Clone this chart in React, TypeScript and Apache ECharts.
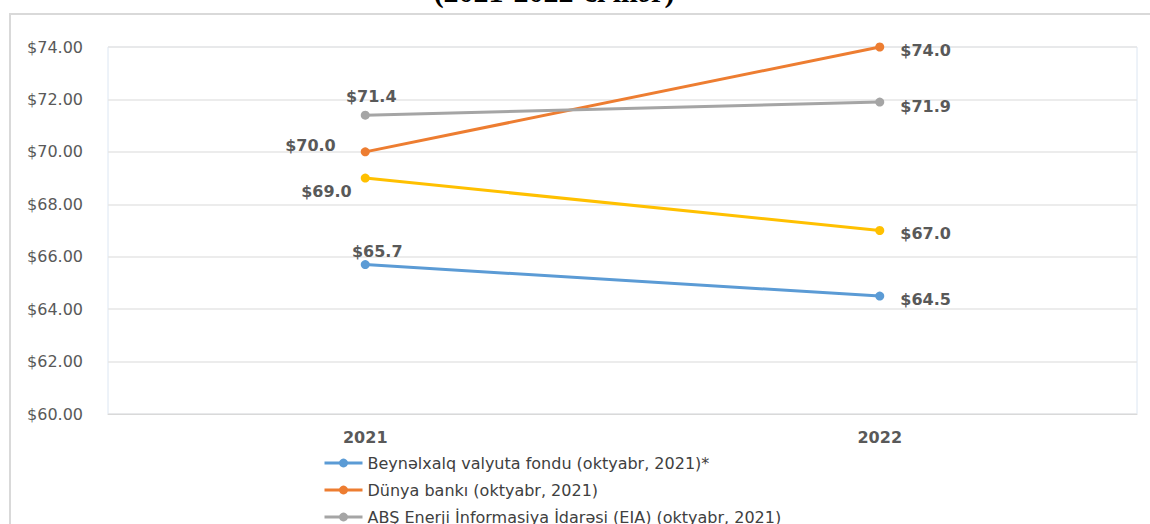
import React, { useEffect, useRef } from "react";
import * as echarts from "echarts";

const categories = ["2021", "2022"];
const imfValues = [65.7, 64.5];
const worldBankValues = [70.0, 74.0];
const eiaValues = [71.4, 71.9];
const fourthValues = [69.0, 67.0];
const seriesNames = [
  "Beynəlxalq valyuta fondu (oktyabr, 2021)*",
  "Dünya bankı (oktyabr, 2021)",
  "ABŞ Enerji İnformasiya İdarəsi (EIA) (oktyabr, 2021)",
  "Digər proqnoz",
];
const titleText = "(2021-2022-ci illər)";

const FONT = "DejaVu Sans";
const labelBase = {
  show: true,
  fontFamily: FONT,
  fontSize: 16,
  fontWeight: "bold" as const,
  color: "#595959",
  formatter: (p: any) => "$" + Number(p.value).toFixed(1),
};

export default function App() {
  const ref = useRef<HTMLDivElement>(null);
  useEffect(() => {
    document.body.style.margin = "0";
    const chart = echarts.init(ref.current!, null, { renderer: "svg" });
    const mk = (vals: number[], first: any, second: any) => [
      { value: vals[0], label: { ...labelBase, ...first } },
      { value: vals[1], label: { ...labelBase, ...second } },
    ];
    const right = (dy: number) => ({ position: "right", distance: 16, offset: [0, dy] });
    const line = (name: string, color: string, data: any[]) => ({
      name,
      type: "line",
      data,
      symbol: "circle",
      symbolSize: 9,
      itemStyle: { color },
      lineStyle: { color, width: 3 },
      label: labelBase,
    });
    chart.setOption({
      animation: false,
      backgroundColor: "#ffffff",
      graphic: [
        {
          type: "rect",
          shape: { x: 10, y: 14, width: 1200, height: 600 },
          style: { fill: "none", stroke: "#d9d9d9", lineWidth: 2 },
          silent: true,
        },
        {
          type: "text",
          x: 554,
          y: 6,
          style: {
            text: titleText,
            fontFamily: "Liberation Serif",
            fontWeight: "bold",
            fontSize: 30,
            fill: "#000000",
            align: "center",
            verticalAlign: "bottom",
          },
        },
      ],
      grid: {
        left: 108,
        right: 13,
        top: 47,
        bottom: 110,
        show: true,
        borderColor: "#dce6f2",
        borderWidth: 1,
        containLabel: false,
      },
      legend: {
        orient: "vertical",
        left: 318,
        top: 450,
        height: 300,
        itemWidth: 38,
        itemHeight: 11,
        itemGap: 11,
        data: seriesNames.slice(0, 3),
        lineStyle: { width: 3 },
        textStyle: { fontFamily: FONT, fontSize: 16, color: "#404040" },
      },
      xAxis: {
        type: "category",
        data: categories,
        boundaryGap: true,
        axisLine: { show: true, lineStyle: { color: "#d9d9d9" } },
        axisTick: { show: false },
        axisLabel: {
          margin: 15,
          fontFamily: FONT,
          fontSize: 16,
          fontWeight: "bold",
          color: "#595959",
        },
      },
      yAxis: {
        type: "value",
        min: 60,
        max: 74,
        interval: 2,
        axisLine: { show: false },
        axisTick: { show: false },
        splitLine: { lineStyle: { color: "#e6e6e6", width: 1.5 } },
        axisLabel: {
          margin: 25,
          fontFamily: FONT,
          fontSize: 16,
          color: "#595959",
          formatter: (v: number) => "$" + v.toFixed(2),
        },
      },
      series: [
        line(
          seriesNames[0],
          "#5b9bd5",
          mk(imfValues, { position: "top", distance: 1, offset: [12, 0] }, right(3))
        ),
        line(
          seriesNames[1],
          "#ed7d31",
          mk(worldBankValues, { position: "left", distance: 25, offset: [0, -6] }, right(3))
        ),
        line(
          seriesNames[2],
          "#a5a5a5",
          mk(eiaValues, { position: "top", distance: 6, offset: [6, 0] }, right(4))
        ),
        line(
          seriesNames[3],
          "#ffc000",
          mk(fourthValues, { position: "left", distance: 9, offset: [0, 13] }, right(3))
        ),
      ],
    });
    return () => chart.dispose();
  }, []);
  return <div ref={ref} style={{ width: 1150, height: 524 }} />;
}
